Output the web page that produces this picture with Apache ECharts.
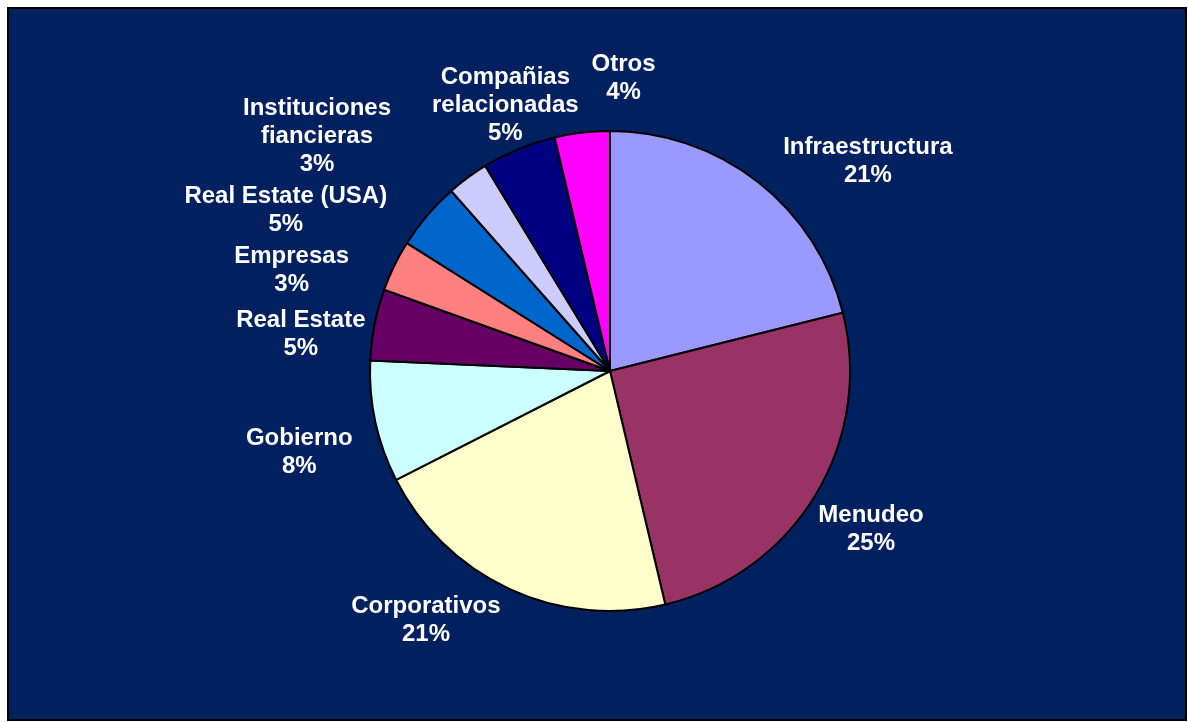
<!DOCTYPE html>
<html>
<head>
<meta charset="utf-8">
<script src="https://cdn.jsdelivr.net/npm/echarts@6/dist/echarts.min.js"></script>
<style>
  html, body { margin: 0; padding: 0; background: #ffffff; }
  #chart { width: 1188px; height: 722px; }
</style>
</head>
<body>
<div id="chart"></div>
<script>
// ---- data ----
var categories = ['Infraestructura', 'Menudeo', 'Corporativos', 'Gobierno', 'Real Estate',
  'Empresas', 'Real Estate (USA)', 'Instituciones\nfiancieras', 'Compañias\nrelacionadas', 'Otros'];
var values = [21.1, 25.2, 21.2, 8.2, 4.8, 3.45, 4.55, 2.8, 5.0, 3.7];
var colors = ['#9999FF', '#993366', '#FFFFCC', '#CCFFFF', '#660066',
  '#FF8080', '#0066CC', '#CCCCFF', '#000080', '#FF00FF'];

// ---- label placement (Excel "best fit" style): angular shift from slice middle (deg), distance in radii ----
var labelShift = [12.7, -0.3, 11.8, -2.2, -4.1, -8.3, -13.8, -14.8, 0.9, 9.3];
var labelDist = [1.389, 1.269, 1.285, 1.337, 1.298, 1.3925, 1.511, 1.5675, 1.194, 1.2275];

var CX = 610, CY = 371, R = 240;
var LABEL_DY = 1.5;

var total = values.reduce(function (a, b) { return a + b; }, 0);
var midAngles = [];
(function () {
  var acc = 0;
  for (var i = 0; i < values.length; i++) {
    var a = values[i] / total * 360;
    midAngles.push(acc + a / 2);
    acc += a;
  }
})();

var chart = echarts.init(document.getElementById('chart'), null, { renderer: 'canvas' });
var option = {
  animation: false,
  backgroundColor: '#ffffff',
  graphic: [{
    type: 'rect',
    z: -10,
    silent: true,
    shape: { x: 8, y: 8, width: 1178, height: 712 },
    style: { fill: '#002060', stroke: '#000000', lineWidth: 2 }
  }],
  series: [{
    type: 'pie',
    center: [CX, CY],
    radius: R,
    startAngle: 90,
    clockwise: true,
    avoidLabelOverlap: false,
    silent: true,
    data: categories.map(function (c, i) {
      return { name: c, value: values[i], itemStyle: { color: colors[i] } };
    }),
    itemStyle: { borderColor: '#000000', borderWidth: 2 },
    label: {
      show: true,
      position: 'outside',
      color: '#ffffff',
      fontFamily: 'Liberation Sans, Arial, sans-serif',
      fontWeight: 'bold',
      fontSize: 24,
      lineHeight: 28,
      align: 'center',
      formatter: function (p) {
        return p.name + '\n' + Math.round(p.percent) + '%';
      }
    },
    labelLine: { show: false },
    emphasis: { disabled: true },
    labelLayout: function (p) {
      var i = p.dataIndex;
      var a = (midAngles[i] + labelShift[i]) * Math.PI / 180;
      var d = R * labelDist[i];
      return {
        x: CX + d * Math.sin(a),
        y: CY - d * Math.cos(a) + LABEL_DY,
        align: 'center',
        verticalAlign: 'middle'
      };
    }
  }]
};
chart.setOption(option);
</script>
</body>
</html>
